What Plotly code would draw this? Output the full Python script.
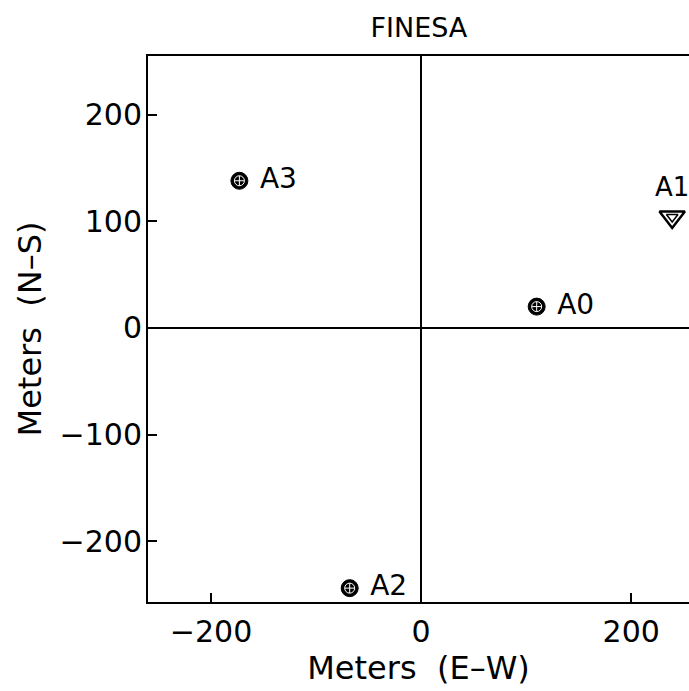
import plotly.graph_objects as go

# Station data (meters)
circ_names = ["A0", "A2", "A3"]
circ_x = [110, -68, -173]
circ_y = [20, -244, 138]
circ_pos = ["middle right", "middle right", "middle right"]

tri_names = ["A1"]
tri_x = [239]
tri_y = [104]

x_ticks = [-200, 0, 200]
y_ticks = [-200, -100, 0, 100, 200]

FONT = "DejaVu Sans"

fig = go.Figure()
fig.add_trace(go.Scatter(
    x=circ_x, y=circ_y, mode="markers+text", text=[" " + n for n in circ_names],
    textposition=circ_pos, textfont=dict(family=FONT, size=28, color="black"),
    marker=dict(symbol="circle", size=17, color="black", line=dict(color="black", width=1)),
    showlegend=False, cliponaxis=False))
fig.add_trace(go.Scatter(
    x=circ_x, y=circ_y, mode="markers",
    marker=dict(symbol="circle-cross-open", size=10, color="white", line=dict(color="white", width=1)),
    showlegend=False, hoverinfo="skip"))
fig.add_trace(go.Scatter(
    x=tri_x, y=tri_y, mode="markers+text", text=tri_names,
    textposition="top center", textfont=dict(family=FONT, size=26, color="black"),
    marker=dict(symbol="triangle-down-open", size=22, color="black", line=dict(color="black", width=2.5)),
    showlegend=False, cliponaxis=False))
fig.add_trace(go.Scatter(
    x=tri_x, y=tri_y, mode="markers",
    marker=dict(symbol="triangle-down-open", size=10, color="black", line=dict(color="black", width=1.5)),
    showlegend=False, hoverinfo="skip", cliponaxis=False))

fig.update_layout(
    width=689, height=691,
    margin=dict(l=148, r=0, t=56, b=89),
    paper_bgcolor="white", plot_bgcolor="white",
    font=dict(family=FONT, color="black"),
    title=dict(text="FINESA", x=0.608, xanchor="center", y=0.96, yanchor="middle",
               font=dict(family=FONT, size=27, color="black")),
    xaxis=dict(range=[-260, 255], tickvals=x_ticks, ticks="inside", ticklen=9, tickwidth=1.5,
               tickcolor="black", showline=True, linecolor="black", linewidth=2, mirror=True,
               showgrid=False, zeroline=True, zerolinecolor="black", zerolinewidth=1.5,
               tickfont=dict(family=FONT, size=30, color="black"), ticklabelstandoff=2,
               title=dict(text="Meters  (E\u2013W)", font=dict(family=FONT, size=32, color="black"), standoff=0)),
    yaxis=dict(range=[-257, 255], tickvals=y_ticks, ticks="inside", ticklen=9, tickwidth=1.5,
               tickcolor="black", showline=True, linecolor="black", linewidth=2,
               showgrid=False, zeroline=True, zerolinecolor="black", zerolinewidth=1.5,
               tickfont=dict(family=FONT, size=30, color="black"), tickformat="d", ticklabelstandoff=-2,
               title=dict(text="Meters  (N\u2013S)", font=dict(family=FONT, size=32, color="black"), standoff=8)),
)
fig.write_html("out.html")
